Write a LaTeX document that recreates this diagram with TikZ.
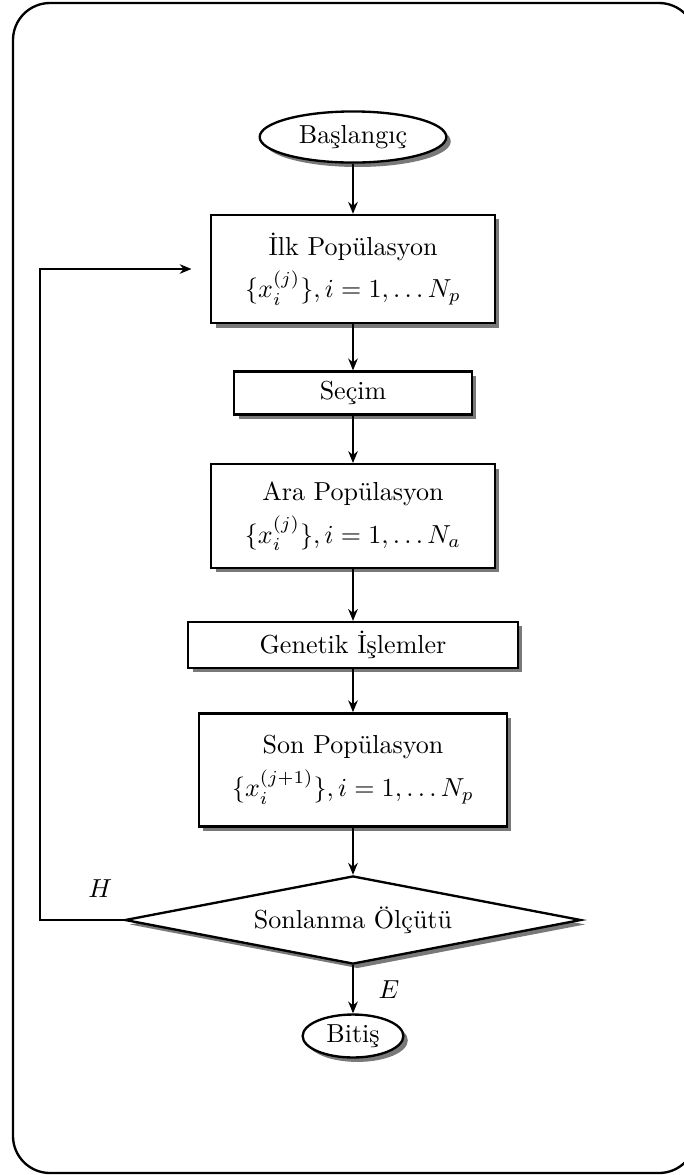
\documentclass[tikz,border=0pt]{standalone}
\usepackage{amsmath}
\usepackage{tikz}
\usetikzlibrary{arrows.meta,positioning,shapes.geometric,shadows}

\begin{document}
\begin{tikzpicture}[
  x=0.0135cm, y=-0.0135cm,
  shade/.style={drop shadow={shadow xshift=0.6mm, shadow yshift=-0.6mm,
    fill=black!75, opacity=0.7}},
  terminal/.style={ellipse, draw, line width=0.9pt, fill=white, shade,
    inner sep=1pt, align=center},
  procbox/.style={rectangle, draw, line width=0.9pt, fill=white, shade,
    inner sep=2pt, align=center},
  decision/.style={diamond, draw, line width=0.9pt, fill=white, shade,
    aspect=5.2, inner sep=0pt, minimum width=6.16cm, minimum height=1.19cm},
  flowline/.style={-{Stealth[length=1.6mm,width=1.3mm]}, line width=0.6pt},
]
  \useasboundingbox (0,0) rectangle (684,1175);

  % outer frame
  \draw[line width=0.9pt, rounded corners=0.5cm] (13,3) rectangle (696,1173);

  % flow nodes
  \node[terminal, minimum width=2.52cm, minimum height=0.69cm] (start)
    at (353,137) {Başlangıç};
  \node[procbox, minimum width=3.83cm, minimum height=1.46cm] (ilk)
    at (353,269) {İlk Popülasyon\\[3pt] $\{x_i^{(j)}\}, i=1,\ldots N_p$};
  \node[procbox, minimum width=3.21cm, minimum height=0.58cm] (secim)
    at (353,393) {Seçim};
  \node[procbox, minimum width=3.83cm, minimum height=1.40cm] (ara)
    at (353,516) {Ara Popülasyon\\[3pt] $\{x_i^{(j)}\}, i=1,\ldots N_a$};
  \node[procbox, minimum width=4.45cm, minimum height=0.62cm] (genetik)
    at (353,645) {Genetik İşlemler};
  \node[procbox, minimum width=4.16cm, minimum height=1.53cm] (son)
    at (353,770) {Son Popülasyon\\[3pt] $\{x_i^{(j+1)}\}, i=1,\ldots N_p$};
  \node[decision] (olcut) at (353,920) {Sonlanma Ölçütü};
  \node[terminal, minimum width=1.36cm, minimum height=0.58cm] (bitis)
    at (353,1036) {Bitiş};
  \coordinate (loop) at (40,920);

  % connectors
  \draw[flowline] (start) -- (ilk);
  \draw[flowline] (ilk) -- (secim);
  \draw[flowline] (secim) -- (ara);
  \draw[flowline] (ara) -- (genetik);
  \draw[flowline] (genetik) -- (son);
  \draw[flowline] (son) -- (olcut);
  \draw[flowline] (olcut) -- node[right=2.2mm] {$E$} (bitis);
  \draw[flowline, shorten >=0.25cm] (olcut.west) --
    node[pos=0.28, above=1.8mm] {$H$} (loop) |- (ilk.west);
\end{tikzpicture}
\end{document}
